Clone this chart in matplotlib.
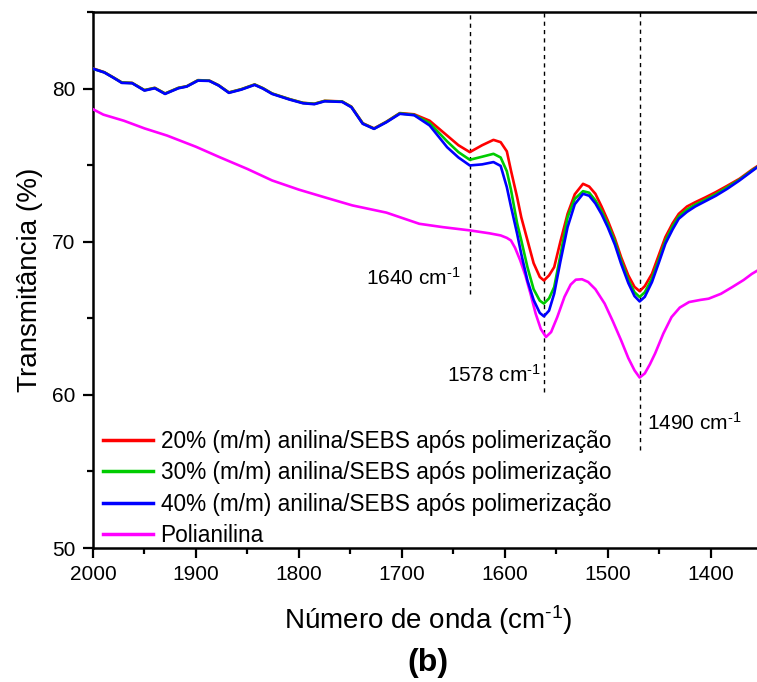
import matplotlib
matplotlib.use("Agg")
import matplotlib.pyplot as plt
from matplotlib.ticker import MultipleLocator

plt.rcParams['font.family'] = ['Liberation Sans', 'DejaVu Sans']
plt.rcParams['mathtext.fontset'] = 'custom'
plt.rcParams['mathtext.rm'] = 'Liberation Sans'
plt.rcParams['mathtext.default'] = 'regular'

# ---------------- data ----------------
wavenumber = [2000, 1998, 1989, 1980, 1972, 1962, 1950, 1940, 1930, 1917, 1909, 1898, 1887,
              1878, 1868, 1856, 1843, 1835, 1826, 1809, 1796, 1785, 1775, 1758, 1749, 1738,
              1727, 1715, 1702, 1688, 1673, 1656, 1645, 1634, 1622, 1611, 1604, 1598, 1594,
              1588, 1584, 1578, 1572, 1566, 1562, 1557, 1552, 1546, 1539, 1532, 1524, 1518,
              1512, 1506, 1500, 1493, 1487, 1480, 1474, 1469, 1464, 1457, 1450, 1444, 1437,
              1431, 1423, 1415, 1405, 1395, 1384, 1372, 1360, 1355]

t20 = [81.32, 81.27, 81.07, 80.72, 80.40, 80.37, 79.90, 80.05, 79.68, 80.05, 80.15, 80.55, 80.52,
       80.22, 79.75, 79.96, 80.27, 80.03, 79.68, 79.31, 79.07, 79.01, 79.20, 79.16, 78.82, 77.74,
       77.40, 77.84, 78.40, 78.32, 77.90, 76.93, 76.30, 75.85, 76.30, 76.65, 76.50, 75.90, 74.65,
       72.90, 71.60, 70.10, 68.60, 67.70, 67.47, 67.80, 68.34, 70.00, 71.82, 73.10, 73.78, 73.60,
       73.13, 72.30, 71.39, 70.20, 68.99, 67.80, 67.05, 66.77, 67.10, 67.91, 69.20, 70.30, 71.20,
       71.82, 72.30, 72.58, 72.90, 73.24, 73.65, 74.11, 74.70, 74.92]

t30 = [81.30, 81.25, 81.06, 80.71, 80.39, 80.36, 79.89, 80.04, 79.67, 80.04, 80.14, 80.54, 80.51,
       80.21, 79.74, 79.95, 80.26, 80.02, 79.67, 79.30, 79.06, 79.00, 79.19, 79.15, 78.80, 77.72,
       77.38, 77.82, 78.38, 78.28, 77.75, 76.55, 75.85, 75.35, 75.55, 75.74, 75.50, 74.60, 73.40,
       71.20, 70.10, 68.34, 66.90, 66.15, 65.96, 66.30, 67.04, 69.10, 71.60, 72.80, 73.30, 73.20,
       72.70, 72.00, 71.15, 70.00, 68.75, 67.50, 66.70, 66.39, 66.70, 67.60, 68.90, 70.05, 71.00,
       71.65, 72.10, 72.42, 72.75, 73.10, 73.55, 74.05, 74.65, 74.87]

t40 = [81.30, 81.25, 81.05, 80.70, 80.37, 80.35, 79.87, 80.02, 79.65, 80.02, 80.13, 80.52, 80.50,
       80.20, 79.72, 79.93, 80.24, 80.00, 79.65, 79.28, 79.04, 78.98, 79.17, 79.13, 78.78, 77.70,
       77.37, 77.80, 78.35, 78.26, 77.59, 76.17, 75.50, 74.98, 75.05, 75.20, 74.95, 73.56, 72.30,
       70.52, 69.20, 67.47, 66.20, 65.35, 65.13, 65.50, 66.61, 68.70, 70.95, 72.45, 73.13, 73.00,
       72.50, 71.80, 70.95, 69.80, 68.56, 67.30, 66.45, 66.10, 66.40, 67.37, 68.70, 69.87, 70.80,
       71.50, 71.95, 72.30, 72.65, 73.00, 73.45, 74.00, 74.60, 74.85]

wavenumber_pani = [2000, 1990, 1970, 1950, 1928, 1900, 1877, 1850, 1826, 1800, 1775, 1748, 1715,
                   1683, 1660, 1634, 1615, 1604, 1598, 1594, 1590, 1585, 1580, 1575, 1570, 1565,
                   1560, 1555, 1549, 1542, 1536, 1531, 1525, 1519, 1512, 1503, 1495, 1487, 1480,
                   1474, 1469, 1464, 1459, 1454, 1446, 1438, 1430, 1421, 1410, 1402, 1390, 1379,
                   1368, 1360, 1355]
pani = [78.65, 78.30, 77.90, 77.40, 76.93, 76.20, 75.52, 74.75, 74.00, 73.40, 72.90, 72.37, 71.90,
        71.17, 70.95, 70.74, 70.55, 70.41, 70.25, 70.08, 69.60, 68.78, 67.80, 66.60, 65.30, 64.30,
        63.78, 64.10, 65.08, 66.40, 67.20, 67.52, 67.55, 67.37, 66.90, 65.96, 64.80, 63.56, 62.40,
        61.60, 61.13, 61.40, 62.00, 62.70, 64.00, 65.08, 65.70, 66.06, 66.20, 66.28, 66.60, 67.04,
        67.50, 67.90, 68.10]

series_labels = ["20% (m/m) anilina/SEBS após polimerização",
                 "30% (m/m) anilina/SEBS após polimerização",
                 "40% (m/m) anilina/SEBS após polimerização",
                 "Polianilina"]

peak_labels = ["1640", "1578", "1490"]
peak_positions = [1634, 1562, 1469]
peak_line_bottoms = [66.6, 60.2, 56.4]

# ---------------- figure ----------------
W, H = 757, 682
fig = plt.figure(figsize=(W / 100, H / 100), dpi=100)
ax = fig.add_axes([93 / W, 1 - 548 / H, (757 - 93) / W, (548 - 12) / H])

lw = 1.9
ax.plot(wavenumber, t20, color='#FF0000', lw=lw, label=series_labels[0], zorder=3)
ax.plot(wavenumber, t30, color='#00CC00', lw=lw, label=series_labels[1], zorder=4)
ax.plot(wavenumber, t40, color='#0000FF', lw=lw, label=series_labels[2], zorder=5)
ax.plot(wavenumber_pani, pani, color='#FF00FF', lw=lw, label=series_labels[3], zorder=3)

ax.vlines(peak_positions, peak_line_bottoms, 85, colors='black', linestyles=(0, (3, 3)),
          lw=1.0, zorder=2)

sup = r"$^{\text{-}1}$"
ax.text(1643, 67.2, peak_labels[0] + " cm" + sup, ha='right', va='baseline', fontsize=15)
ax.text(1565, 60.84, peak_labels[1] + " cm" + sup, ha='right', va='baseline', fontsize=15)
ax.text(1462, 57.69, peak_labels[2] + " cm" + sup, ha='left', va='baseline', fontsize=15)

ax.set_xlim(2000, 1355)
ax.set_ylim(50, 85)
ax.xaxis.set_major_locator(MultipleLocator(100))
ax.xaxis.set_minor_locator(MultipleLocator(50))
ax.yaxis.set_major_locator(MultipleLocator(10))
ax.yaxis.set_minor_locator(MultipleLocator(5))

for s in ['left', 'bottom', 'top']:
    ax.spines[s].set_linewidth(1.8)
ax.spines['right'].set_visible(False)

ax.tick_params(which='major', direction='out', length=7.5, width=1.6, labelsize=15, pad=5)
ax.tick_params(which='minor', direction='out', length=4, width=1.6)
ax.tick_params(top=False, right=False, which='both')

ax.set_xlabel("Número de onda (cm" + sup + ")", fontsize=20)
ax.xaxis.set_label_coords((428 - 93) / 664, -(620 - 548) / 536)
ax.xaxis.label.set_va('center')
ax.set_ylabel("Transmitância (%)", fontsize=20)
ax.yaxis.set_label_coords((30 - 93) / 664, 0.5)
ax.yaxis.label.set_va('center')

fig.text(428 / W, 1 - 663 / H, "(b)", fontsize=23, fontweight='bold', ha='center', va='center')

leg = ax.legend(loc='lower left', bbox_to_anchor=(0.0045, -0.011), frameon=False, fontsize=16.3,
                handlelength=2.2, handletextpad=0.35, labelspacing=0.37, borderpad=0.3,
                borderaxespad=0.0)
for h in leg.get_lines():
    h.set_linewidth(2.5)

fig.savefig("out.png", dpi=100)
